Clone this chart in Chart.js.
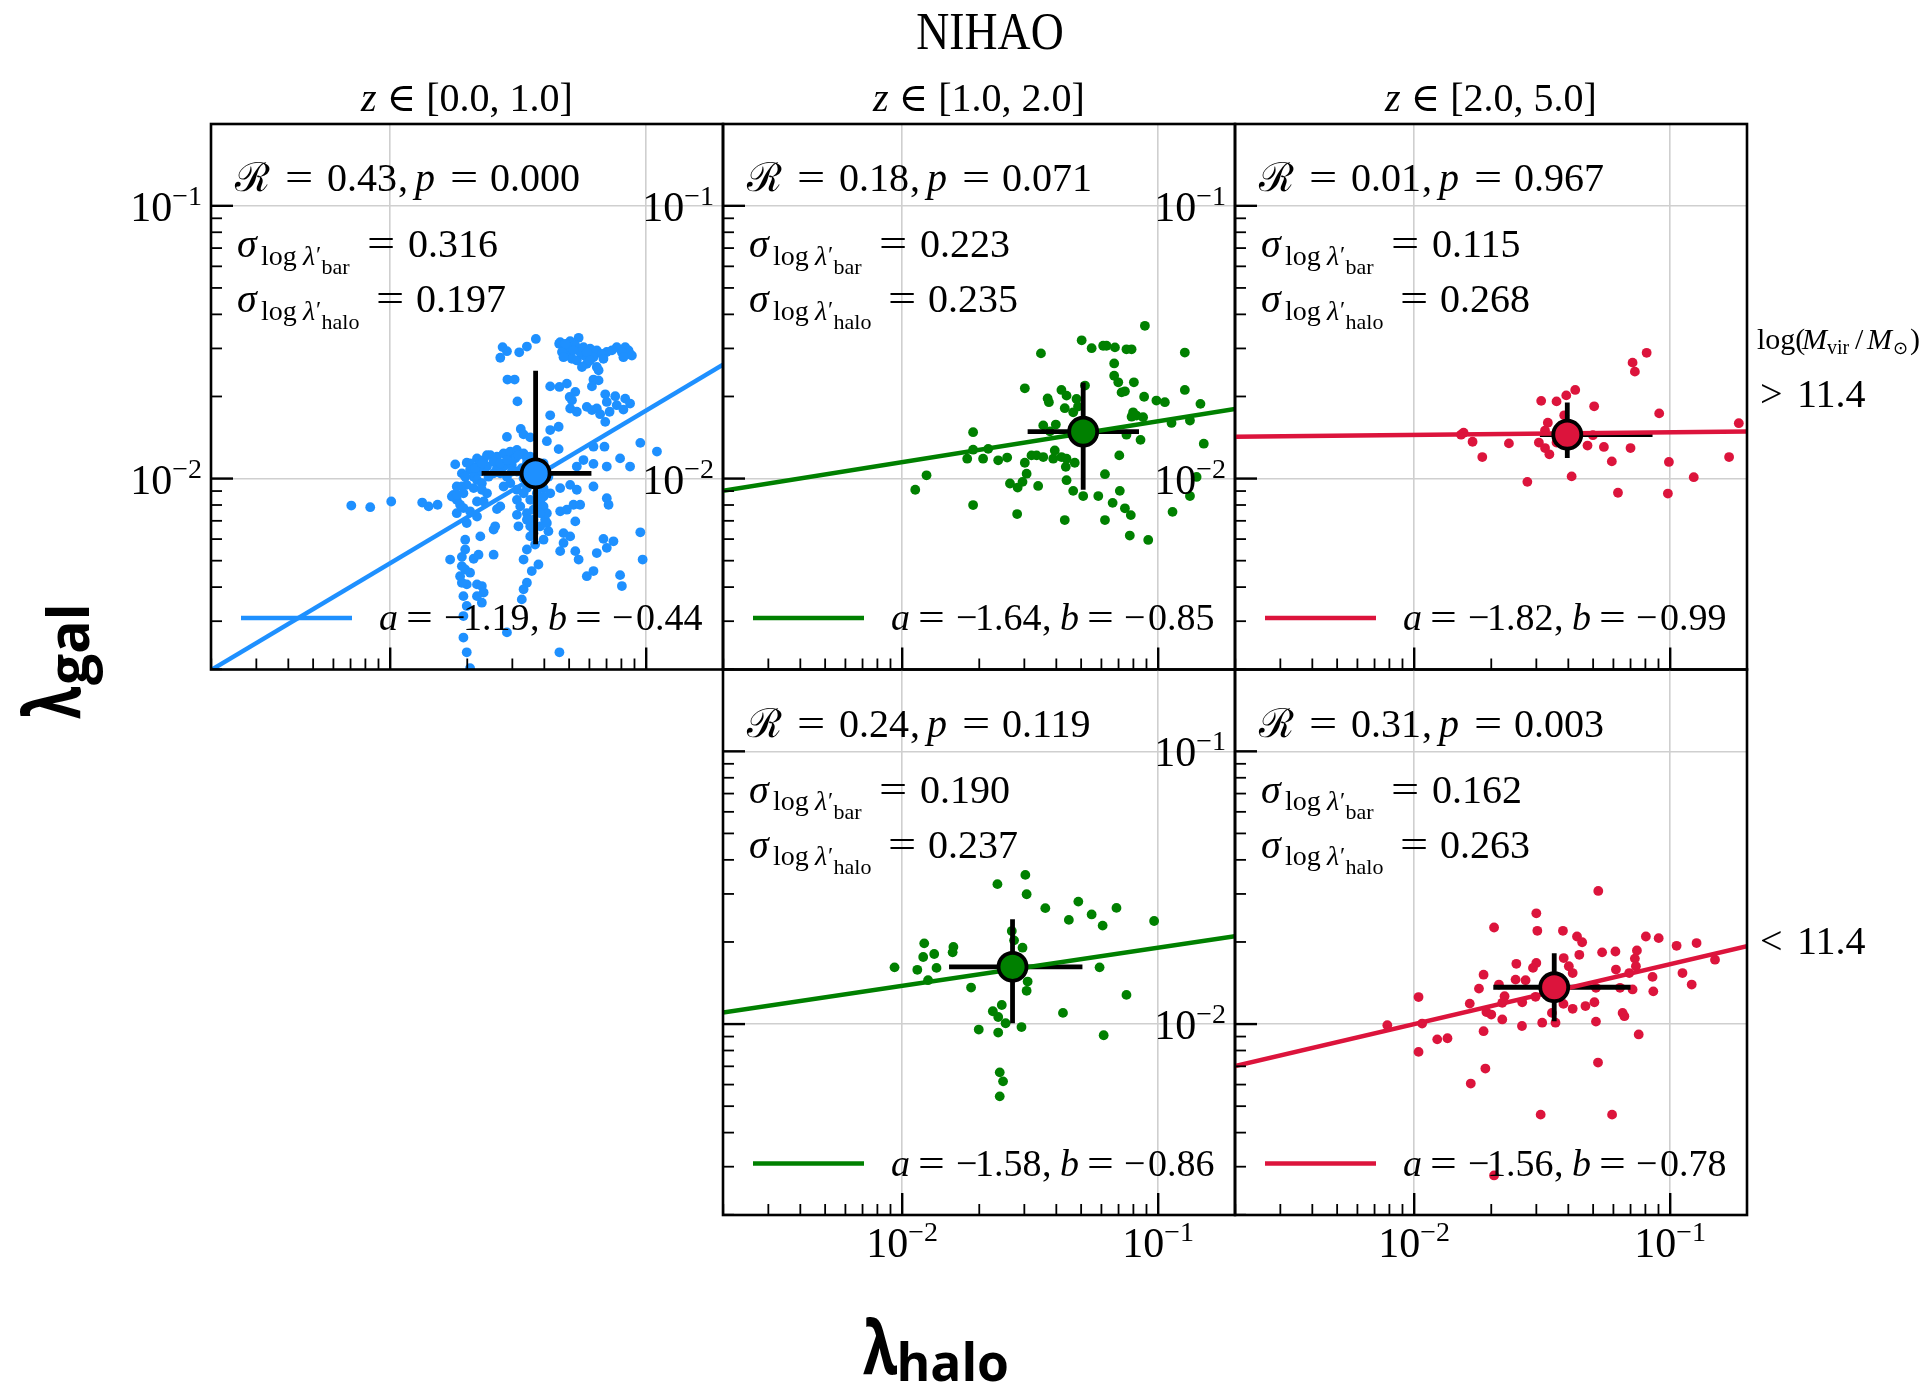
<!DOCTYPE html>
<html>
<head>
<meta charset="utf-8">
<title>NIHAO spin correlation</title>
<script src="https://cdn.jsdelivr.net/npm/chart.js@4.4.0/dist/chart.umd.min.js"></script>
<style>
  body { margin: 0; background: #fff; }
  #fig { position: relative; width: 1925px; height: 1386px; }
  #fig canvas { position: absolute; left: 0; top: 0; }
</style>
</head>
<body>
<div id="fig">
  <canvas id="c0" width="1925" height="1386"></canvas>
  <canvas id="c1" width="1925" height="1386"></canvas>
  <canvas id="c2" width="1925" height="1386"></canvas>
  <canvas id="c3" width="1925" height="1386"></canvas>
  <canvas id="c4" width="1925" height="1386"></canvas>
</div>
<script>
// all point values are log10(lambda_halo), log10(lambda_gal)

// z in [0,1], log Mvir > 11.4
const ptsZ0Hi = [
  [-1.431,-1.488],[-1.561,-1.518],[-1.544,-1.533],[-1.570,-1.557],[-1.496,-1.537],[-1.466,-1.516],[-1.340,-1.506],[-1.323,-1.518],
  [-1.336,-1.500],[-1.264,-1.484],[-1.297,-1.496],[-1.277,-1.512],[-1.245,-1.518],[-1.219,-1.524],[-1.193,-1.530],[-1.154,-1.536],
  [-1.115,-1.518],[-1.082,-1.518],[-1.063,-1.543],[-1.069,-1.530],[-1.310,-1.548],[-1.290,-1.561],[-1.271,-1.567],[-1.245,-1.548],
  [-1.206,-1.555],[-1.232,-1.579],[-1.193,-1.591],[-1.186,-1.603],[-1.258,-1.536],[-1.303,-1.518],[-1.329,-1.536],
  [-1.316,-1.506],[-1.284,-1.530],[-1.232,-1.537],[-1.173,-1.543],[-1.134,-1.530],[-1.095,-1.537],[-1.056,-1.549],[-1.323,-1.555],
  [-1.219,-1.567],[-1.167,-1.561],[-1.251,-1.591],[-1.089,-1.555],
  [-1.542,-1.637],[-1.514,-1.637],[-1.375,-1.662],[-1.339,-1.664],[-1.310,-1.652],[-1.277,-1.682],[-1.299,-1.701],[-1.290,-1.713],
  [-1.206,-1.637],[-1.186,-1.640],[-1.212,-1.662],[-1.503,-1.717],[-1.375,-1.768],[-1.297,-1.743],[-1.271,-1.755],[-1.232,-1.737],
  [-1.212,-1.749],[-1.193,-1.743],[-1.160,-1.691],[-1.154,-1.719],[-1.121,-1.698],[-1.082,-1.707],[-1.063,-1.725],[-1.115,-1.731],
  [-1.089,-1.747],[-1.180,-1.764],[-1.160,-1.792],[-1.143,-1.755],
  [-1.490,-1.818],[-1.479,-1.838],[-1.453,-1.849],[-1.544,-1.847],[-1.375,-1.822],[-1.342,-1.810],[-1.388,-1.863],[-1.342,-1.892],
  [-1.206,-1.883],[-1.163,-1.883],[-1.023,-1.869],[-0.958,-1.901],[-1.245,-1.932],[-1.271,-1.956],[-1.206,-1.946],[-1.154,-1.956],
  [-1.102,-1.926],[-1.063,-1.956],
  [-1.746,-1.948],[-1.701,-1.942],[-1.688,-1.968],[-1.661,-1.926],[-1.635,-1.932],[-1.609,-1.914],[-1.583,-1.920],[-1.557,-1.908],
  [-1.531,-1.901],[-1.505,-1.895],[-1.479,-1.908],[-1.453,-1.920],[-1.622,-1.956],[-1.583,-1.962],[-1.557,-1.956],[-1.525,-1.950],
  [-1.505,-1.974],[-1.544,-1.993],[-1.596,-1.981],[-1.648,-1.974],[-1.674,-1.993],[-1.479,-1.999],[-1.453,-2.017],[-1.401,-1.944],
  [-1.382,-1.993],[-1.466,-1.944],[-1.440,-1.968],[-1.486,-1.962],[-1.427,-2.054],[-1.414,-2.084],[-1.395,-2.151],[-1.440,-2.114],
  [-1.531,-1.932],[-1.512,-1.926],[-1.622,-1.914],[-1.655,-1.950],[-1.720,-1.981],[-1.740,-2.029],
  [-1.688,-1.944],[-1.668,-1.962],[-1.642,-1.944],[-1.596,-1.938],[-1.570,-1.944],[-1.544,-1.932],[-1.499,-1.914],[-1.466,-1.926],
  [-1.570,-1.981],[-1.616,-1.993],[-1.525,-1.974],[-1.661,-2.005],[-1.707,-1.993],[-1.720,-2.029],[-1.642,-2.017],[-1.466,-2.035],
  [-1.701,-2.023],[-1.674,-2.035],[-1.714,-2.054],[-1.642,-2.041],[-1.622,-2.054],[-1.753,-2.060],[-1.740,-2.078],[-1.727,-2.096],
  [-1.714,-2.108],[-1.688,-2.120],[-1.661,-2.139],[-1.661,-2.084],[-1.635,-2.084],[-1.557,-2.029],[-1.531,-2.017],[-1.505,-2.041],
  [-1.479,-2.054],[-1.505,-2.078],[-1.492,-2.102],[-1.466,-2.127],[-1.440,-2.151],[-1.401,-2.102],[-1.388,-2.127],[-1.375,-2.054],
  [-1.401,-2.035],[-1.336,-2.035],[-1.297,-2.023],[-1.271,-2.041],[-1.206,-2.029],[-1.154,-2.072],[-1.147,-2.096],[-1.336,-2.120],
  [-1.310,-2.114],[-1.284,-2.096],[-1.258,-2.096],[-1.277,-2.157],[-1.505,-2.133],[-1.499,-2.175],[-1.453,-2.175],[-1.414,-2.175],
  [-1.453,-2.078],[-1.427,-2.102],[-1.466,-2.151],[-1.414,-2.127],[-1.440,-2.200],[-1.388,-2.163],[-1.453,-2.212],[-1.401,-2.066],
  [-1.382,-2.193],[-1.323,-2.200],[-1.297,-2.212],[-1.277,-2.266],[-1.264,-2.297],[-1.323,-2.236],[-1.336,-2.266],[-1.401,-2.224],
  [-1.434,-2.242],[-1.466,-2.260],[-1.479,-2.297],[-1.421,-2.315],[-1.447,-2.339],[-1.466,-2.382],[-1.479,-2.406],[-1.486,-2.443],
  [-1.544,-2.564],[-1.570,-2.102],[-1.583,-2.112],[-1.590,-2.175],[-1.596,-2.187],[-1.648,-2.212],[-1.707,-2.224],[-1.707,-2.260],
  [-1.766,-2.297],[-1.720,-2.287],[-1.674,-2.294],[-1.655,-2.279],[-1.596,-2.279],[-1.720,-2.321],[-1.707,-2.333],[-1.688,-2.345],
  [-1.727,-2.358],[-1.701,-2.388],[-1.661,-2.388],[-1.642,-2.394],[-1.635,-2.418],[-1.661,-2.431],[-1.642,-2.455],[-1.714,-2.431],
  [-1.740,-2.127],[-1.701,-2.163],[-1.720,-2.382],
  [-1.701,-2.467],[-1.714,-2.504],[-1.714,-2.583],[-1.701,-2.637],[-1.339,-2.637],[-1.232,-2.358],[-1.206,-2.339],[-1.193,-2.273],
  [-1.167,-2.221],[-1.154,-2.254],[-1.128,-2.230],[-1.102,-2.354],[-1.095,-2.394],[-1.023,-2.197],[-1.014,-2.297],[-1.688,-2.695],
  [-2.152,-2.099],[-2.078,-2.105],[-1.996,-2.084],[-1.875,-2.088],[-1.850,-2.102],[-1.815,-2.096],[-1.759,-2.066],[-1.740,-2.060]
];

// z in [1,2], log Mvir > 11.4
const ptsZ1Hi = [
  [-1.052,-1.440],[-1.299,-1.493],[-1.260,-1.522],[-1.215,-1.513],[-1.202,-1.513],[-1.169,-1.519],[-1.124,-1.526],[-1.104,-1.526],
  [-1.458,-1.541],[-0.896,-1.538],[-1.172,-1.578],[-1.172,-1.623],[-1.156,-1.647],[-1.095,-1.647],[-1.143,-1.684],[-1.130,-1.680],
  [-1.055,-1.700],[-1.521,-1.669],[-1.378,-1.675],[-1.358,-1.696],[-1.286,-1.659],[-1.319,-1.708],[-1.432,-1.706],[-1.427,-1.720],
  [-1.365,-1.742],[-1.313,-1.736],[-1.332,-1.757],[-1.007,-1.714],[-0.974,-1.720],[-0.896,-1.675],[-0.835,-1.726],[-1.098,-1.757],
  [-1.104,-1.773],[-1.085,-1.769],[-1.059,-1.775],[-0.948,-1.796],[-0.876,-1.787],[-0.822,-1.872],[-1.069,-1.858],[-1.124,-1.839],
  [-1.449,-1.805],[-1.400,-1.802],[-1.423,-1.827],[-1.723,-1.830],[-1.723,-1.894],[-1.664,-1.891],[-1.684,-1.927],[-1.746,-1.927],
  [-1.625,-1.933],[-1.590,-1.923],[-1.521,-1.942],[-1.495,-1.915],[-1.475,-1.915],[-1.449,-1.921],[-1.404,-1.897],[-1.410,-1.927],
  [-1.378,-1.921],[-1.358,-1.927],[-1.361,-1.957],[-1.326,-1.942],[-1.514,-1.982],[-1.530,-2.012],[-1.579,-2.018],[-1.549,-2.033],
  [-1.469,-2.027],[-1.358,-2.006],[-1.332,-2.045],[-1.293,-2.064],[-1.234,-2.064],[-1.208,-1.984],[-1.152,-1.915],[-1.150,-2.045],
  [-1.178,-2.089],[-1.130,-2.109],[-1.107,-2.134],[-1.208,-2.152],[-1.365,-2.152],[-1.723,-2.097],[-1.551,-2.130],[-1.111,-2.209],
  [-1.039,-2.225],[-0.944,-2.122],[-0.876,-2.064],[-0.850,-1.994],[-1.949,-2.041],[-1.905,-1.988]
];

// z in [2,5], log Mvir > 11.4
const ptsZ2Hi = [
  [-1.092,-1.539],[-1.147,-1.575],[-1.138,-1.608],[-1.371,-1.675],[-1.406,-1.695],[-1.444,-1.717],[-1.504,-1.715],[-1.297,-1.735],
  [-1.043,-1.761],[-1.414,-1.768],[-1.478,-1.795],[-0.732,-1.797],[-1.489,-1.824],[-1.807,-1.832],[-1.817,-1.839],[-1.772,-1.865],
  [-1.630,-1.871],[-1.513,-1.868],[-1.489,-1.888],[-1.472,-1.911],[-1.444,-1.868],[-1.323,-1.879],[-1.302,-1.841],[-1.259,-1.884],
  [-1.155,-1.888],[-1.734,-1.921],[-1.228,-1.937],[-1.005,-1.939],[-0.770,-1.921],[-1.558,-2.012],[-1.385,-1.992],[-1.204,-2.052],
  [-1.009,-2.055],[-0.908,-1.995]
];

// z in [1,2], log Mvir < 11.4
const ptsZ1Lo = [
  [-1.519,-1.453],[-1.628,-1.487],[-1.514,-1.524],[-1.441,-1.575],[-1.312,-1.551],[-1.349,-1.618],[-1.260,-1.598],[-1.217,-1.639],
  [-1.163,-1.574],[-1.016,-1.622],[-1.572,-1.659],[-1.563,-1.693],[-1.530,-1.720],[-1.800,-1.717],[-1.803,-1.737],[-1.914,-1.704],
  [-1.918,-1.754],[-1.875,-1.743],[-2.030,-1.792],[-1.941,-1.801],[-1.866,-1.794],[-1.899,-1.839],[-1.731,-1.866],[-1.510,-1.844],
  [-1.514,-1.878],[-1.229,-1.792],[-1.124,-1.893],[-1.611,-1.930],[-1.646,-1.953],[-1.625,-1.974],[-1.596,-1.997],[-1.372,-1.959],
  [-1.701,-2.020],[-1.625,-2.031],[-1.534,-2.011],[-1.213,-2.041],[-1.619,-2.177],[-1.606,-2.210],[-1.619,-2.265]
];

// z in [2,5], log Mvir < 11.4
const ptsZ2Lo = [
  [-1.281,-1.512],[-1.523,-1.594],[-1.519,-1.658],[-1.688,-1.646],[-1.419,-1.658],[-1.364,-1.679],[-1.344,-1.700],[-1.095,-1.679],
  [-1.045,-1.685],[-0.975,-1.713],[-0.897,-1.703],[-1.130,-1.730],[-1.138,-1.760],[-1.214,-1.734],[-1.266,-1.737],[-1.355,-1.746],
  [-1.416,-1.758],[-1.523,-1.776],[-1.601,-1.779],[-1.729,-1.819],[-1.396,-1.788],[-1.381,-1.813],[-1.212,-1.800],[-1.134,-1.788],
  [-1.160,-1.813],[-1.069,-1.827],[-0.952,-1.813],[-0.825,-1.764],[-0.916,-1.855],[-1.066,-1.880],[-1.147,-1.873],[-1.196,-1.867],
  [-1.290,-1.867],[-1.536,-1.794],[-1.565,-1.839],[-1.604,-1.837],[-1.669,-1.855],[-1.747,-1.870],[-1.647,-1.898],[-1.526,-1.900],
  [-1.578,-1.920],[-1.656,-1.922],[-1.783,-1.925],[-1.983,-1.901],[-1.718,-1.956],[-1.699,-1.965],[-1.656,-1.983],[-1.729,-2.026],
  [-1.969,-1.998],[-1.910,-2.056],[-1.870,-2.052],[-1.983,-2.102],[-1.579,-2.007],[-1.500,-1.995],[-1.462,-1.959],[-1.448,-1.995],
  [-1.417,-1.926],[-1.381,-1.944],[-1.331,-1.934],[-1.296,-1.920],[-1.290,-1.991],[-1.186,-1.959],[-1.179,-1.971],[-1.123,-2.038],
  [-1.722,-2.163],[-1.779,-2.218],[-1.282,-2.141],[-1.506,-2.332],[-1.227,-2.332],[-1.688,-2.555],[-2.105,-2.004]
];

// panel order: top-left, top-middle, top-right, bottom-middle, bottom-right
const panelPoints = [ptsZ0Hi, ptsZ1Hi, ptsZ2Hi, ptsZ1Lo, ptsZ2Lo];
const panelColors = ['#1e90ff', '#008000', '#dc143c', '#008000', '#dc143c'];
const corrR = [0.43, 0.18, 0.01, 0.24, 0.31];
const pValue = [0.000, 0.071, 0.967, 0.119, 0.003];
const sigmaBar = [0.316, 0.223, 0.115, 0.190, 0.162];
const sigmaHalo = [0.197, 0.235, 0.268, 0.237, 0.263];
const fitA = [-1.19, -1.64, -1.82, -1.58, -1.56];
const fitB = [-0.44, -0.85, -0.99, -0.86, -0.78];
// fit line, log lambda_gal at the left and right axis limits
const fitEnds = [[-2.702, -1.582], [-2.045, -1.745], [-1.847, -1.827], [-1.958, -1.678], [-2.154, -1.714]];
// median point and its 16-84 range, log10
const medHalo = [-1.432, -1.293, -1.402, -1.569, -1.453];
const medGal = [-1.981, -1.828, -1.839, -1.790, -1.865];
const rangeHalo = [[-1.643, -1.214], [-1.510, -1.075], [-1.509, -1.069], [-1.817, -1.296], [-1.691, -1.155]];
const rangeGal = [[-2.241, -1.605], [-2.041, -1.648], [-1.925, -1.721], [-1.997, -1.616], [-1.990, -1.740]];

const zBins = ['[0.0, 1.0]', '[1.0, 2.0]', '[2.0, 5.0]'];
const massLabels = ['> 11.4', '< 11.4'];

const LOG_MIN = -2.7, LOG_MAX = -0.7;
const AX_MIN = Math.pow(10, LOG_MIN), AX_MAX = Math.pow(10, LOG_MAX);
const majorTicks = [0.01, 0.1];
const minorTicks = [];
[0.001, 0.01, 0.1].forEach(d => {
  for (let k = 2; k <= 9; k++) {
    const v = k * d;
    if (v > AX_MIN && v < AX_MAX) minorTicks.push(v);
  }
});

// layout
const W = 1925, H = 1386;
const colLeft = [211, 723, 1235], rowTop = [124, 669.5];
const PW = 512, PH = 545.5;
const panelCol = [0, 1, 2, 1, 2], panelRow = [0, 0, 0, 1, 1];
const showYLabels = [true, true, true, false, true];
const showXLabels = [false, false, false, true, true];

const SERIF = "'Liberation Serif', 'DejaVu Serif', serif";
const SANS = "'Open Sans', 'DejaVu Sans', sans-serif";

const toXY = ([lx, ly]) => ({ x: Math.pow(10, lx), y: Math.pow(10, ly) });

function put(ctx, t, x, y, font, align = 'left', sx = 1) {
  ctx.save();
  ctx.font = font;
  ctx.textAlign = align;
  ctx.textBaseline = 'alphabetic';
  ctx.fillStyle = '#000';
  ctx.translate(x, y);
  ctx.scale(sx, 1);
  ctx.fillText(t, 0, 0);
  ctx.restore();
}

// pieces: [text, font, dy]
function runs(ctx, pieces, x, y, align) {
  let total = 0;
  const ws = pieces.map(p => { ctx.font = p[1]; const w = ctx.measureText(p[0]).width; total += w; return w; });
  let cx = align === 'center' ? x - total / 2 : align === 'right' ? x - total : x;
  pieces.forEach((p, k) => { put(ctx, p[0], cx, y + (p[2] || 0), p[1]); cx += ws[k]; });
}

// stretch a string so that its ink box fills w x h around (cx, cy)
function fitGlyph(ctx, t, font, cx, cy, w, h, rot) {
  ctx.save();
  ctx.font = font;
  const m = ctx.measureText(t);
  const gw = m.actualBoundingBoxLeft + m.actualBoundingBoxRight;
  const gh = m.actualBoundingBoxAscent + m.actualBoundingBoxDescent;
  ctx.translate(cx, cy);
  if (rot) ctx.rotate(rot);
  ctx.scale(w / gw, h / gh);
  ctx.textAlign = 'left';
  ctx.textBaseline = 'alphabetic';
  ctx.fillStyle = '#000';
  ctx.fillText(t, -gw / 2 + m.actualBoundingBoxLeft, (m.actualBoundingBoxAscent - m.actualBoundingBoxDescent) / 2);
  ctx.restore();
}

function seg(ctx, x1, y1, x2, y2, lw) {
  ctx.lineWidth = lw;
  ctx.beginPath();
  ctx.moveTo(x1, y1);
  ctx.lineTo(x2, y2);
  ctx.stroke();
}

function drawStats(ctx, L, T, i) {
  const f40 = `40px ${SERIF}`, i40 = `italic 40px ${SERIF}`;
  const b = T + 67;
  put(ctx, 'ℛ', L + 24, b, `40px 'DejaVu Serif', serif`);
  put(ctx, '=', L + 74, b, f40, 'left', 1.25);
  put(ctx, corrR[i].toFixed(2), L + 116, b, f40);
  put(ctx, ',', L + 187, b, f40);
  put(ctx, 'p', L + 204, b, i40);
  put(ctx, '=', L + 239, b, f40, 'left', 1.25);
  put(ctx, pValue[i].toFixed(3), L + 279, b, f40);
  [[sigmaBar, 'bar', 133, 156, 197], [sigmaHalo, 'halo', 188, 165, 205]].forEach(([arr, sub, dy, xEq, xVal]) => {
    const bl = T + dy;
    put(ctx, 'σ', L + 26, bl, i40);
    put(ctx, 'log', L + 50, bl + 7.5, `28px ${SERIF}`);
    put(ctx, 'λ', L + 92, bl + 7.5, `italic 28px ${SERIF}`);
    put(ctx, '′', L + 105, bl + 5, `24px ${SERIF}`);
    put(ctx, sub, L + 110.6, bl + 16.5, `22px ${SERIF}`);
    put(ctx, '=', L + xEq, bl, f40, 'left', 1.25);
    put(ctx, arr[i].toFixed(3), L + xVal, bl, f40);
  });
}

function drawLegend(ctx, L, T, i) {
  ctx.save();
  ctx.strokeStyle = panelColors[i];
  seg(ctx, L + 30, T + 494, L + 141, T + 494, 4.5);
  ctx.restore();
  const f = `38px ${SERIF}`, it = `italic 38px ${SERIF}`;
  const b = T + 506;
  const a = fitA[i], bb = fitB[i];
  put(ctx, 'a', L + 168, b, it);
  put(ctx, '=', L + 195, b, f, 'left', 1.25);
  put(ctx, a < 0 ? '−' : '', L + 233, b, f);
  put(ctx, Math.abs(a).toFixed(2), L + 252, b, f);
  put(ctx, ',', L + 319, b, f);
  put(ctx, 'b', L + 337, b, it);
  put(ctx, '=', L + 364, b, f, 'left', 1.25);
  put(ctx, bb < 0 ? '−' : '', L + 401, b, f);
  put(ctx, Math.abs(bb).toFixed(2), L + 425, b, f);
}

function tickLabel(ctx, e, x, y, align) {
  runs(ctx, [['10', `42px ${SERIF}`, 0], ['−' + Math.abs(e), `28px ${SERIF}`, -16]], x, y, align);
}

const panelDecor = {
  id: 'panelDecor',
  afterDatasetsDraw(chart, args, opts) {
    const { ctx, chartArea: a, scales: { x, y } } = chart;
    ctx.save();
    ctx.strokeStyle = '#000';
    ctx.lineCap = 'butt';
    majorTicks.forEach(v => {
      const px = x.getPixelForValue(v), py = y.getPixelForValue(v);
      seg(ctx, px, a.bottom, px, a.bottom - 22, 2.4);
      seg(ctx, a.left, py, a.left + 22, py, 2.4);
    });
    minorTicks.forEach(v => {
      const px = x.getPixelForValue(v), py = y.getPixelForValue(v);
      seg(ctx, px, a.bottom, px, a.bottom - 11, 1.8);
      seg(ctx, a.left, py, a.left + 11, py, 1.8);
    });
    ctx.lineWidth = 2.6;
    ctx.strokeRect(a.left, a.top, a.right - a.left, a.bottom - a.top);
    ctx.restore();
  },
  afterDraw(chart, args, opts) {
    const { ctx, chartArea: a, scales: { x, y } } = chart;
    const i = opts.idx;
    drawStats(ctx, a.left, a.top, i);
    drawLegend(ctx, a.left, a.top, i);
    if (showYLabels[i]) {
      majorTicks.forEach(v => {
        tickLabel(ctx, Math.round(Math.log10(v)), a.left - 9, y.getPixelForValue(v) + 15, 'right');
      });
    }
    if (showXLabels[i]) {
      majorTicks.forEach(v => {
        tickLabel(ctx, Math.round(Math.log10(v)), x.getPixelForValue(v), a.bottom + 42, 'center');
      });
    }
  }
};

const figureText = {
  id: 'figureText',
  afterDraw(chart) {
    const ctx = chart.ctx;
    put(ctx, 'NIHAO', 990, 49, `52px ${SERIF}`, 'center', 0.88);
    zBins.forEach((bin, c) => {
      runs(ctx, [['z', `italic 40px ${SERIF}`], [' ∈ ', `40px ${SERIF}`], [bin, `40px ${SERIF}`]],
        colLeft[c] + PW / 2, 111, 'center');
    });
    // right-hand mass labels
    const f30 = `30px ${SERIF}`, i30 = `italic 30px ${SERIF}`, f20 = `20px ${SERIF}`;
    put(ctx, 'log(', 1757, 349, f30);
    put(ctx, 'M', 1802, 349, i30);
    put(ctx, 'vir', 1827, 354, f20);
    put(ctx, '/', 1855, 349, f30);
    put(ctx, 'M', 1867, 349, i30);
    put(ctx, '⊙', 1893, 354, `18px 'DejaVu Sans', sans-serif`);
    put(ctx, ')', 1910, 349, f30);
    [407, 954].forEach((bl, r) => {
      const [sym, num] = massLabels[r].split(' ');
      put(ctx, sym, 1760, bl, `40px ${SERIF}`);
      put(ctx, num, 1797, bl, `40px ${SERIF}`);
    });
    // axis labels
    fitGlyph(ctx, 'λ', `bold 100px ${SANS}`, 49.8, 703, 32, 62, -Math.PI / 2);
    fitGlyph(ctx, 'gal', `bold 100px ${SANS}`, 74.4, 646.3, 77.5, 57, -Math.PI / 2);
    fitGlyph(ctx, 'λ', `bold 100px ${SANS}`, 880, 1345, 34, 60);
    fitGlyph(ctx, 'halo', `bold 100px ${SANS}`, 953.5, 1361.7, 107, 40);
  }
};

function logAxis() {
  return {
    type: 'logarithmic',
    min: AX_MIN,
    max: AX_MAX,
    bounds: 'data',
    border: { display: false },
    grid: { color: '#cfcfcf', lineWidth: 1.6, drawTicks: false },
    ticks: { display: false },
    afterBuildTicks: s => { s.ticks = majorTicks.map(v => ({ value: v })); }
  };
}

panelPoints.forEach((pts, i) => {
  const L = colLeft[panelCol[i]], T = rowTop[panelRow[i]];
  const color = panelColors[i];
  const lineSet = (data, col, width, order) => ({
    data, showLine: true, borderColor: col, borderWidth: width, pointRadius: 0, order
  });
  new Chart(document.getElementById('c' + i), {
    type: 'scatter',
    data: {
      datasets: [
        { data: pts.map(toXY), backgroundColor: color, borderWidth: 0, pointRadius: 4.9, order: 5 },
        lineSet([toXY([rangeHalo[i][0], medGal[i]]), toXY([rangeHalo[i][1], medGal[i]])], '#000', 4.8, 4),
        lineSet([toXY([medHalo[i], rangeGal[i][0]]), toXY([medHalo[i], rangeGal[i][1]])], '#000', 4.8, 4),
        lineSet([toXY([LOG_MIN, fitEnds[i][0]]), toXY([LOG_MAX, fitEnds[i][1]])], color, 4.5, 3),
        { data: [toXY([medHalo[i], medGal[i]])], backgroundColor: color, borderColor: '#000', borderWidth: 3.8, pointRadius: 14, order: 1 }
      ]
    },
    options: {
      responsive: false,
      animation: false,
      devicePixelRatio: 1,
      events: [],
      layout: { autoPadding: false, padding: { left: L, top: T, right: W - L - PW, bottom: H - T - PH } },
      plugins: { legend: { display: false }, tooltip: { enabled: false }, panelDecor: { idx: i } },
      scales: { x: logAxis(), y: logAxis() }
    },
    plugins: i === 0 ? [panelDecor, figureText] : [panelDecor]
  });
});
</script>
</body>
</html>
